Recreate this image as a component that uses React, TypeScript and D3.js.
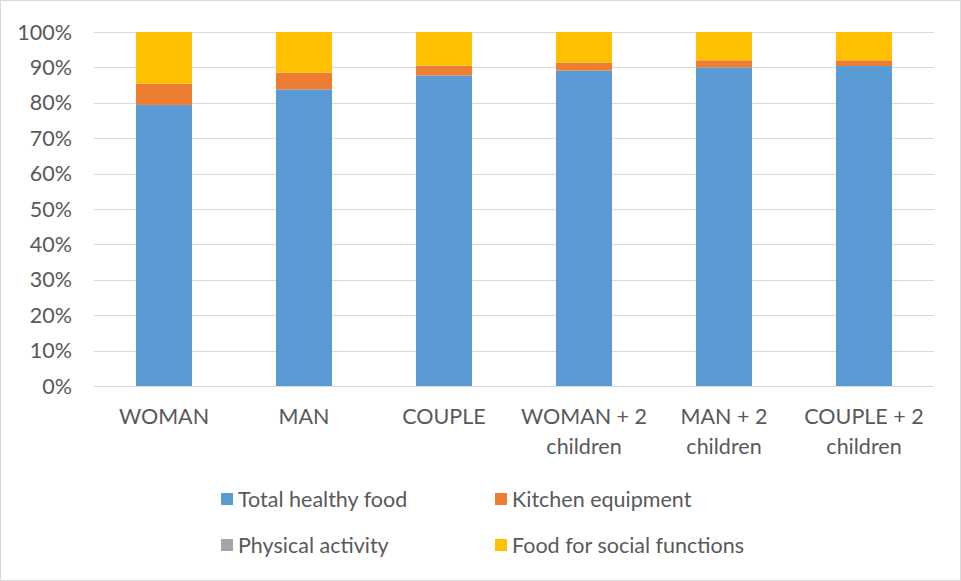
import React from 'react'
import * as d3 from 'd3'

const categories = ['WOMAN', 'MAN', 'COUPLE', 'WOMAN + 2 children', 'MAN + 2 children', 'COUPLE + 2 children']
const categoryLines = [['WOMAN'], ['MAN'], ['COUPLE'], ['WOMAN + 2', 'children'], ['MAN + 2', 'children'], ['COUPLE + 2', 'children']]
const seriesNames = ['Total healthy food', 'Kitchen equipment', 'Physical activity', 'Food for social functions']
const healthyFood = [79.4, 83.8, 87.7, 89.1, 90.0, 90.4]
const kitchen = [6.0, 4.7, 2.8, 2.2, 2.0, 1.6]
const physical = [0, 0, 0, 0, 0, 0]
const socialFood = [14.6, 11.5, 9.5, 8.7, 8.0, 8.0]
const yTicks = [0, 10, 20, 30, 40, 50, 60, 70, 80, 90, 100]
const colors = ['#5b9bd5', '#ed7d31', '#a5a5a5', '#ffc000']

const W = 961
const H = 581
const font = 'Lato, "Open Sans", sans-serif'
const fs = 21.5
const textColor = '#595959'

export default function App() {
  const series = [healthyFood, kitchen, physical, socialFood]
  const rows = categories.map((c, i) => {
    const r: any = { cat: c }
    seriesNames.forEach((s, k) => (r[s] = series[k][i]))
    return r
  })
  const stacked = d3.stack<any>().keys(seriesNames)(rows)

  const x = d3.scaleBand().domain(categories).range([94, 934]).paddingInner(0.6).paddingOuter(0.3)
  const y = d3.scaleLinear().domain([0, 100]).range([386, 32])

  return (
    <svg width={W} height={H} style={{ position: 'absolute', left: 0, top: 0 }}>
      <rect x={0.5} y={0.5} width={W - 1} height={H - 1} fill="#fff" stroke="#d9d9d9" />
      <g>
        {yTicks.map((t) => (
          <g key={t}>
            <line x1={94} x2={934} y1={Math.round(y(t)) + 0.5} y2={Math.round(y(t)) + 0.5} stroke="#d9d9d9" strokeWidth={1} />
            <text x={72} y={y(t)} dy="0.35em" textAnchor="end" fontFamily={font} fontSize={fs} fill={textColor}>
              {t}%
            </text>
          </g>
        ))}
      </g>
      <g>
        {stacked.map((s, k) => (
          <g key={s.key} fill={colors[k]}>
            {s.map((d, i) => (
              <rect
                key={i}
                x={x(categories[i])}
                width={x.bandwidth()}
                y={y(d[1])}
                height={Math.max(0, y(d[0]) - y(d[1]))}
              />
            ))}
          </g>
        ))}
      </g>
      <g>
        {categories.map((c, i) => (
          <text key={c} x={(x(c) as number) + x.bandwidth() / 2} y={416} textAnchor="middle" fontFamily={font} fontSize={fs} fill={textColor}>
            {categoryLines[i].map((l, j) => (
              <tspan key={j} x={(x(c) as number) + x.bandwidth() / 2} dy={j === 0 ? '0.35em' : 30}>
                {l}
              </tspan>
            ))}
          </text>
        ))}
      </g>
      <g>
        {seriesNames.map((s, k) => {
          const lx = k % 2 === 0 ? 221 : 495
          const ly = k < 2 ? 499 : 545
          return (
            <g key={s}>
              <rect x={lx} y={ly - 6} width={12} height={12} fill={colors[k]} />
              <text x={lx + 17} y={ly} dy="0.35em" fontFamily={font} fontSize={fs} fill={textColor}>
                {s}
              </text>
            </g>
          )
        })}
      </g>
    </svg>
  )
}
